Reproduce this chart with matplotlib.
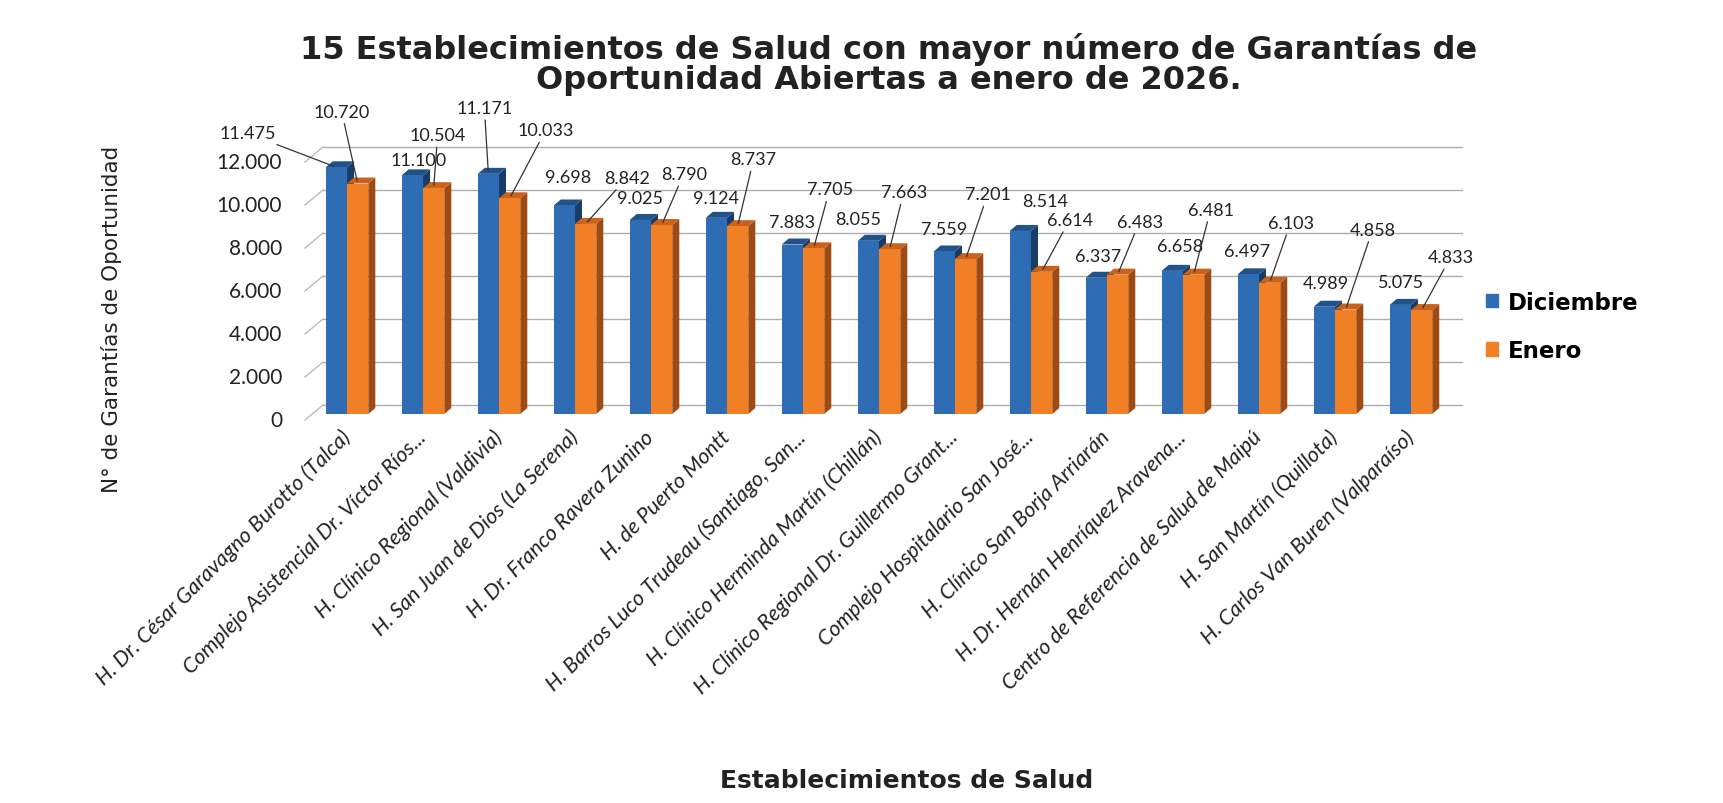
import numpy as np
import matplotlib
matplotlib.use("Agg")
import matplotlib.pyplot as plt
import matplotlib.transforms as mtransforms
from matplotlib.patches import Polygon, Patch

# datos
establecimientos = [
    "H. Dr. César Garavagno Burotto (Talca)",
    "Complejo Asistencial Dr. Víctor Ríos...",
    "H. Clínico Regional (Valdivia)",
    "H. San Juan de Dios (La Serena)",
    "H. Dr. Franco Ravera Zunino",
    "H. de Puerto Montt",
    "H. Barros Luco Trudeau (Santiago, San...",
    "H. Clínico Herminda Martín (Chillán)",
    "H. Clínico Regional Dr. Guillermo Grant...",
    "Complejo Hospitalario San José...",
    "H. Clínico San Borja Arriarán",
    "H. Dr. Hernán Henríquez Aravena...",
    "Centro de Referencia de Salud de Maipú",
    "H. San Martín (Quillota)",
    "H. Carlos Van Buren (Valparaíso)",
]
diciembre = [11475, 11100, 11171, 9698, 9025, 9124, 7883, 8055, 7559, 8514,
             6337, 6658, 6497, 4989, 5075]
enero = [10720, 10504, 10033, 8842, 8790, 8737, 7705, 7663, 7201, 6614,
         6483, 6481, 6103, 4858, 4833]
y_ticks = [0, 2000, 4000, 6000, 8000, 10000, 12000]

# posiciones de las etiquetas (pixeles, relativo al tope de la barra)
off_dic = [(-89, 34), (6, 15), (-4, 66), (4, 28), (0, 22), (0, 20), (0, 23),
           (-10, 22), (0, 22), (25, 30), (2, 22), (8, 25), (-1, 23), (1, 24), (1, 23)]
off_ene = [(-16, 72), (4, 53), (36, 68), (41, 46), (22, 51), (16, 67), (16, 59),
           (14, 57), (22, 65), (28, 52), (22, 53), (17, 65), (21, 60), (27, 80), (29, 53)]

azul = ("#2E6DB4", "#22528A", "#173C66")      # frente, tope, lado
naranjo = ("#F07F26", "#C9621A", "#9E4A12")
dx3, dy3 = 7, 6       # profundidad de las barras (px)
txt = "#222222"

W, H = 1724, 804
fig = plt.figure(figsize=(W / 100, H / 100), dpi=100)
ax = fig.add_axes([305 / W, 1 - 415 / H, (1447 - 305) / W, 258 / H])
x = np.arange(len(establecimientos))
ax.set_xlim(-0.553, 14.474)
ax.set_ylim(0, 12000)
for s in ax.spines.values():
    s.set_visible(False)
ax.set_yticks([])
ax.set_xticks(x)
ax.set_xticklabels(establecimientos, rotation=45, ha="right", va="center",
                   rotation_mode="anchor", family="Lato", style="italic",
                   fontsize=15.5, color=txt)
ax.tick_params(axis="x", length=0, pad=14)

inv = ax.transData.inverted()


def to_data(pts):
    return inv.transform(np.asarray(pts, dtype=float))


# eje y: etiquetas en el borde frontal, grilla en la pared del fondo
abajo = mtransforms.ScaledTranslation(0, -6 / 100, fig.dpi_scale_trans)
for v in y_ticks:
    ax.text(-0.02, v, f"{v:,}".replace(",", "."), ha="right", va="center",
            family="Lato", fontsize=15, color=txt,
            transform=ax.get_yaxis_transform() + abajo)
    x0, y0 = ax.transData.transform((ax.get_xlim()[0], v))
    ax.plot(*to_data([(x0 + 18, y0 + 9), (1462, y0 + 9)]).T,
            color="#AEAEAE", lw=1, zorder=0, clip_on=False)
    ax.plot(*to_data([(x0, y0 - 6), (x0 + 18, y0 + 9)]).T,
            color="#BBBBBB", lw=1, zorder=0, clip_on=False)

bw = 0.28


def barra3d(xc, v, cols):
    (l, b) = ax.transData.transform((xc - bw / 2, 0))
    (r, t) = ax.transData.transform((xc + bw / 2, v))
    lado = [(r, b), (r + dx3, b + dy3), (r + dx3, t + dy3), (r, t)]
    tope = [(l, t), (r, t), (r + dx3, t + dy3), (l + dx3, t + dy3)]
    ax.add_patch(Polygon(to_data(lado), closed=True, fc=cols[2], ec="none", zorder=2))
    ax.add_patch(Polygon(to_data(tope), closed=True, fc=cols[1], ec="none", zorder=2))
    ax.bar(xc, v, bw, color=cols[0], zorder=2)


def etiqueta(xc, v, off):
    dist = np.hypot(*off)
    props = dict(arrowstyle="-", color="#333333", lw=0.9, shrinkA=1, shrinkB=2) if dist > 40 else None
    ax.annotate(f"{v:,}".replace(",", "."), xy=(xc, v), xytext=(off[0] * 0.72, off[1] * 0.72),
                textcoords="offset points", ha="center", va="center", family="Lato",
                fontsize=13, color=txt, arrowprops=props, zorder=5,
                annotation_clip=False)


for i in range(len(x)):
    barra3d(x[i] - bw / 2, diciembre[i], azul)
    barra3d(x[i] + bw / 2, enero[i], naranjo)
for i in range(len(x)):
    etiqueta(x[i] - bw / 2, diciembre[i], off_dic[i])
    etiqueta(x[i] + bw / 2, enero[i], off_ene[i])

fig.text(889 / W, 1 - 49 / H, "15 Establecimientos de Salud con mayor número de Garantías de",
         ha="center", va="center", fontsize=23, fontweight="bold", family="DejaVu Sans", color=txt)
fig.text(889 / W, 1 - 80 / H, "Oportunidad Abiertas a enero de 2026.",
         ha="center", va="center", fontsize=23, fontweight="bold", family="DejaVu Sans", color=txt)
fig.text(112 / W, 1 - 319 / H, "N° de Garantías de Oportunidad", rotation=90,
         ha="center", va="center", fontsize=15.5, family="DejaVu Sans", color=txt)
fig.text(907 / W, 1 - 781 / H, "Establecimientos de Salud", ha="center", va="center",
         fontsize=18, fontweight="bold", family="DejaVu Sans", color=txt)

handles = [Patch(color=azul[0]), Patch(color=naranjo[0])]
fig.legend(handles, ["Diciembre", "Enero"], loc="upper left",
           bbox_to_anchor=(1465 / W, 1 - 271 / H), frameon=False,
           handlelength=0.55, handleheight=0.55, handletextpad=0.4, labelspacing=1.1,
           prop=dict(family="DejaVu Sans", weight="bold", size=16.5))

fig.savefig("out.png", dpi=100, facecolor="white")
